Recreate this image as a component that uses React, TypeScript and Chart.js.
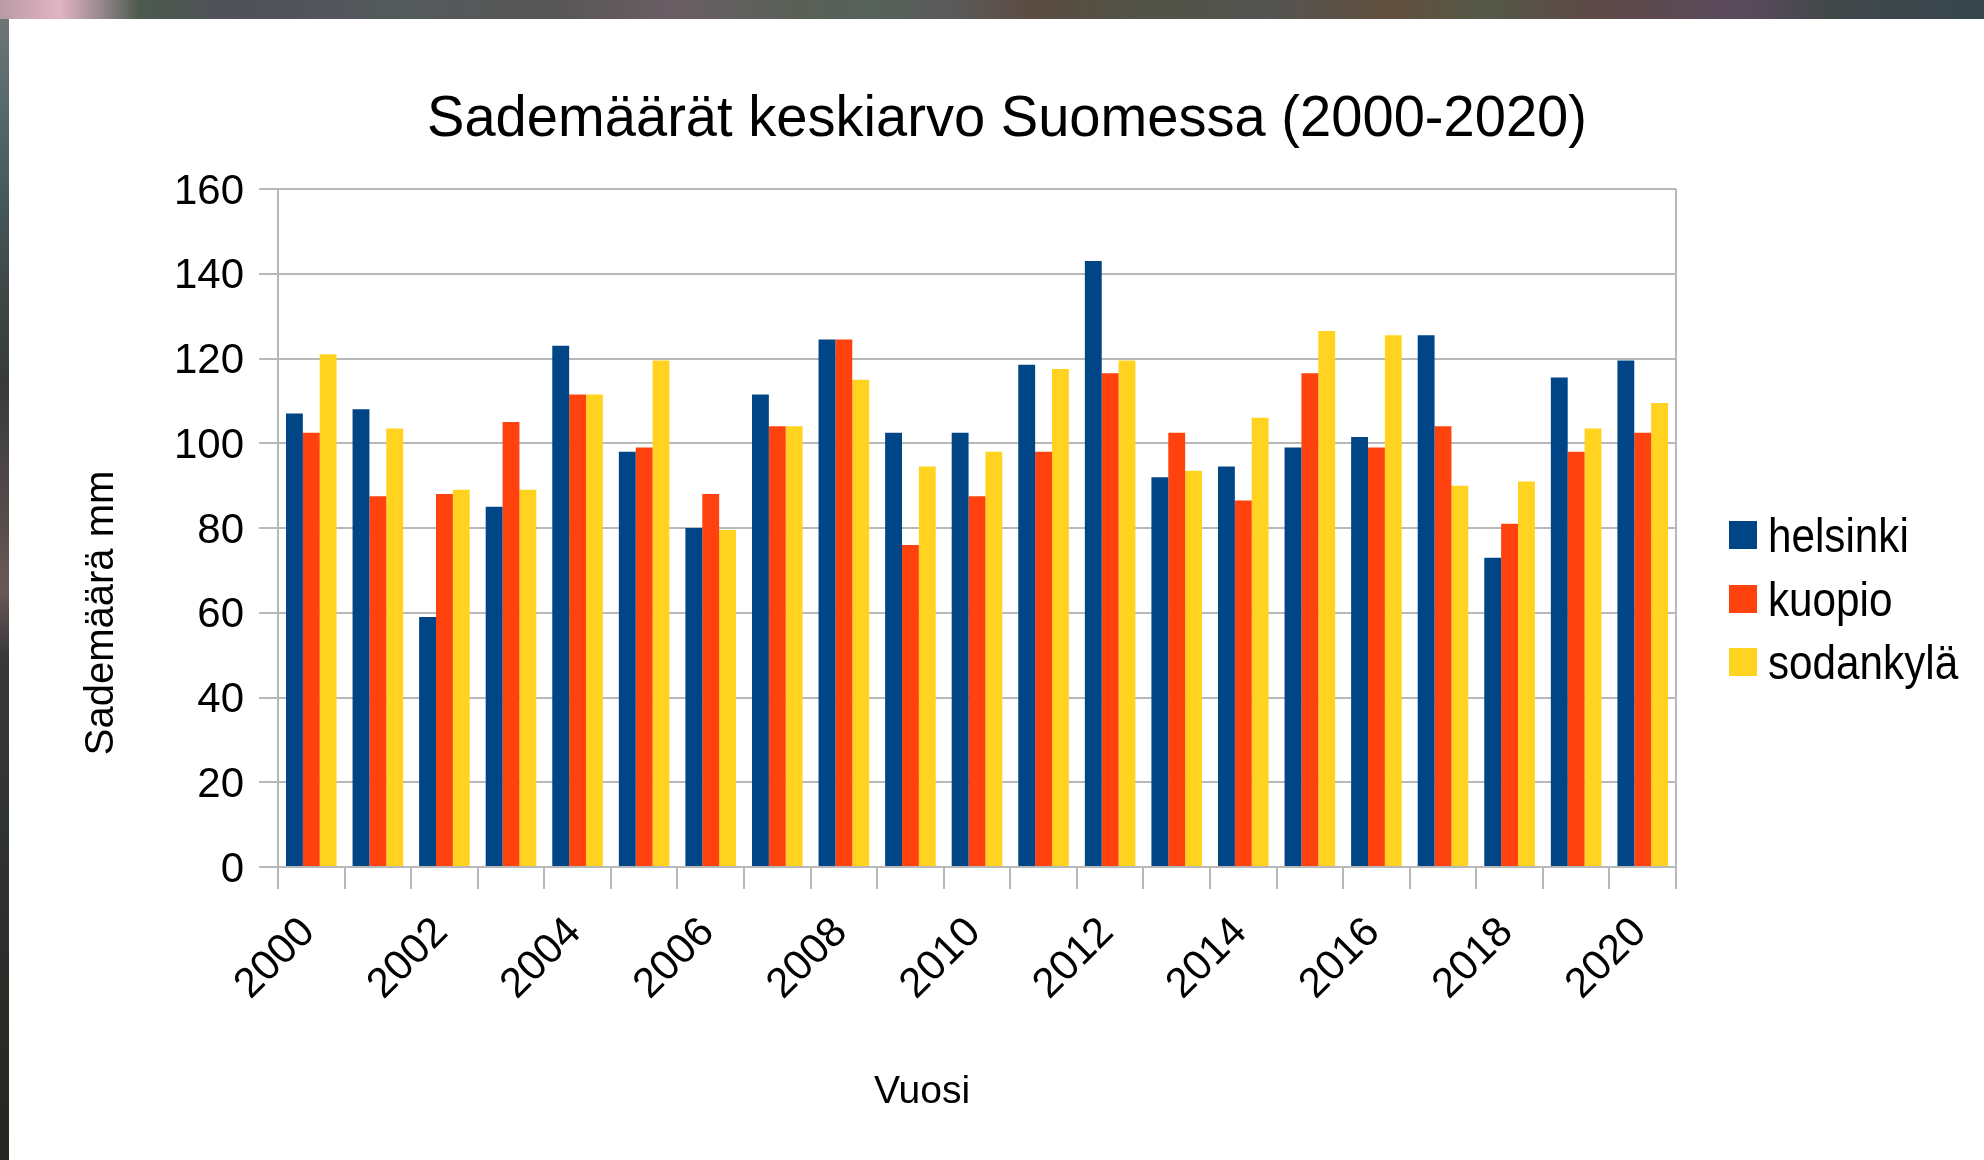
import { useEffect, useRef } from 'react';
import { Chart, registerables } from 'chart.js';

Chart.register(...registerables);

const years = [
  '2000', '2001', '2002', '2003', '2004', '2005', '2006', '2007', '2008', '2009', '2010',
  '2011', '2012', '2013', '2014', '2015', '2016', '2017', '2018', '2019', '2020',
];
const helsinki = [107, 108, 59, 85, 123, 98, 80, 111.5, 124.5, 102.5, 102.5, 118.5, 143, 92, 94.5, 99, 101.5, 125.5, 73, 115.5, 119.5];
const kuopio = [102.5, 87.5, 88, 105, 111.5, 99, 88, 104, 124.5, 76, 87.5, 98, 116.5, 102.5, 86.5, 116.5, 99, 104, 81, 98, 102.5];
const sodankyla = [121, 103.5, 89, 89, 111.5, 119.5, 79.5, 104, 115, 94.5, 98, 117.5, 119.5, 93.5, 106, 126.5, 125.5, 90, 91, 103.5, 109.5];
const seriesNames = ['helsinki', 'kuopio', 'sodankylä'];
const seriesColors = ['#004586', '#ff420e', '#ffd320'];
const titleText = 'Sademäärät keskiarvo Suomessa (2000-2020)';
const yTitle = 'Sademäärä mm';
const xTitle = 'Vuosi';
const yMin = 0;
const yMax = 160;
const yStep = 20;

const FONT = "'Liberation Sans', Arial, sans-serif";
const GRID = '#b8b8b8';

function drawText(
  ctx: CanvasRenderingContext2D,
  text: string,
  x: number,
  y: number,
  size: number,
  align: CanvasTextAlign,
  sx: number,
  rot = 0,
) {
  ctx.save();
  ctx.translate(x, y);
  if (rot) ctx.rotate(rot);
  ctx.scale(sx, 1);
  ctx.font = `${size}px ${FONT}`;
  ctx.fillStyle = '#000';
  ctx.textAlign = align;
  ctx.textBaseline = 'alphabetic';
  ctx.fillText(text, 0, 0);
  ctx.restore();
}

const decorPlugin = {
  id: 'decor',
  afterDraw(chart: any) {
    const ctx: CanvasRenderingContext2D = chart.ctx;
    const a = chart.chartArea;
    // plot frame right edge
    ctx.save();
    ctx.strokeStyle = GRID;
    ctx.lineWidth = 2;
    ctx.beginPath();
    ctx.moveTo(a.right, a.top);
    ctx.lineTo(a.right, a.bottom);
    ctx.stroke();
    ctx.restore();

    // title
    ctx.save();
    ctx.font = `58px ${FONT}`;
    const tw = ctx.measureText(titleText).width;
    ctx.restore();
    drawText(ctx, titleText, 1007, 136, 58, 'center', 1160 / tw);

    // axis titles
    drawText(ctx, yTitle, 113, 613, 40, 'center', 1, -Math.PI / 2);
    drawText(ctx, xTitle, 922, 1103, 39, 'center', 1);

    // legend
    const ds = chart.data.datasets;
    const rowY = [535, 599, 662];
    ds.forEach((d: any, i: number) => {
      ctx.save();
      ctx.fillStyle = d.backgroundColor;
      ctx.fillRect(1729, rowY[i] - 14, 28, 28);
      ctx.restore();
      drawText(ctx, d.label, 1768, rowY[i] + 17, 48, 'left', 0.88);
    });
  },
};

export default function App() {
  const ref = useRef<HTMLCanvasElement>(null);

  useEffect(() => {
    document.body.style.margin = '0';
    const canvas = ref.current;
    if (!canvas) return;
    const chart = new Chart(canvas, {
      type: 'bar',
      data: {
        labels: years,
        datasets: [helsinki, kuopio, sodankyla].map((vals, i) => ({
          label: seriesNames[i],
          data: vals,
          backgroundColor: seriesColors[i],
          borderWidth: 0,
          categoryPercentage: 0.76,
          barPercentage: 1,
        })),
      },
      options: {
        responsive: false,
        animation: false,
        devicePixelRatio: 1,
        layout: { padding: { left: 0, top: 189, right: 308, bottom: 0 } },
        plugins: {
          legend: { display: false },
          title: { display: false },
          tooltip: { enabled: false },
        },
        scales: {
          x: {
            afterFit: (s: any) => {
              s.height = 1160 - 867;
            },
            grid: {
              display: true,
              drawOnChartArea: false,
              drawTicks: true,
              tickLength: 22,
              color: GRID,
              lineWidth: 2,
              offset: true,
            },
            border: { display: true, color: GRID, width: 2 },
            ticks: {
              autoSkip: false,
              maxRotation: 45,
              minRotation: 45,
              padding: 19,
              labelOffset: -3,
              color: '#000',
              font: { family: FONT, size: 42 },
              callback: (_v: any, i: number) => (i % 2 === 0 ? years[i] : ''),
            },
          },
          y: {
            min: yMin,
            max: yMax,
            afterFit: (s: any) => {
              s.width = 278;
            },
            grid: {
              color: GRID,
              lineWidth: 2,
              drawTicks: true,
              tickLength: 19,
            },
            border: { display: true, color: GRID, width: 2 },
            ticks: {
              stepSize: yStep,
              padding: 15,
              labelOffset: 3,
              color: '#000',
              font: { family: FONT, size: 42 },
            },
          },
        },
      },
      plugins: [decorPlugin],
    });
    return () => chart.destroy();
  }, []);

  const topGrad =
    'linear-gradient(to right, #b89aa6 0%, #e2b4c4 3%, #9a8a90 5%, #4c5a4e 7%, #50505a 12%, #545a5c 20%, #585656 28%, #6a5e64 34%, #5a6058 40%, #56625a 44%, #5a5a5a 48%, #5c4c42 52%, #505446 58%, #545452 64%, #62503e 70%, #545848 75%, #5e4a46 80%, #5a4a5e 88%, #42484a 92%, #36464e 100%)';
  const leftGrad =
    'linear-gradient(to bottom, #6e7676 0%, #4a6262 12%, #404a4a 22%, #383a3a 32%, #5a4e4e 45%, #6a5858 50%, #383838 56%, #303432 70%, #2a2c28 85%, #242622 100%)';

  return (
    <div
      style={{
        position: 'fixed',
        left: 0,
        top: 0,
        width: 1984,
        height: 1160,
        overflow: 'hidden',
        background: '#fff',
      }}
    >
      <div style={{ position: 'absolute', left: 0, top: 0, width: 1984, height: 19, background: topGrad }} />
      <div style={{ position: 'absolute', left: 0, top: 19, width: 9, height: 1141, background: leftGrad }} />
      <canvas
        ref={ref}
        width={1984}
        height={1160}
        style={{ position: 'absolute', left: 0, top: 0, width: 1984, height: 1160 }}
      />
    </div>
  );
}
